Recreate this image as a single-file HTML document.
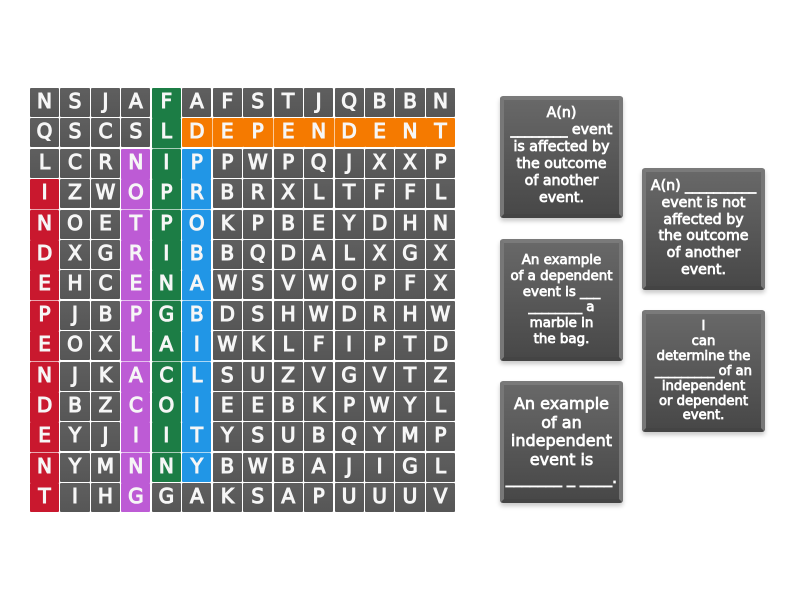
<!DOCTYPE html>
<html><head><meta charset="utf-8">
<style>
html,body{margin:0;padding:0;background:#fff;width:800px;height:600px;overflow:hidden}
#g{position:absolute;left:30px;top:88px;display:grid;grid-template-columns:repeat(14,29.07px);grid-auto-rows:29px;gap:1.4px;font:normal 20px "DejaVu Sans",sans-serif;-webkit-text-stroke:1.1px #f6f6f6;color:#f6f6f6}
#g div{background:linear-gradient(#5f5f5f,#565656);text-align:center;line-height:27px;border-radius:1px}
#g .r{background:#c9182e;box-shadow:0 1.4px 0 #c9182e}
#g .g{background:#1c7d45;box-shadow:0 1.4px 0 #1c7d45}
#g .b{background:#2196e6;box-shadow:0 1.4px 0 #2196e6}
#g .p{background:#bd5bd5;box-shadow:0 1.4px 0 #bd5bd5}
#g .o{background:#f57a00;box-shadow:1.4px 0 0 #f57a00}
#g .e{box-shadow:none}
.c{position:absolute;width:123px;height:122px;box-sizing:border-box;border:4px solid #777;border-radius:3px;background:linear-gradient(#686868,#484848);box-shadow:0 3px 5px rgba(0,0,0,.22);color:#fff;text-align:center;font-family:"DejaVu Sans",sans-serif;font-weight:normal;white-space:nowrap;-webkit-text-stroke:.75px #fff;border-top-color:#7a7a7a;border-bottom-color:#444}
.c span{position:absolute;left:-4px;right:-4px;display:block}
</style></head><body>
<div id="g">
<div>N</div><div>S</div><div>J</div><div>A</div><div class="g">F</div><div>A</div><div>F</div><div>S</div><div>T</div><div>J</div><div>Q</div><div>B</div><div>B</div><div>N</div>
<div>Q</div><div>S</div><div>C</div><div>S</div><div class="g">L</div><div class="o">D</div><div class="o">E</div><div class="o">P</div><div class="o">E</div><div class="o">N</div><div class="o">D</div><div class="o">E</div><div class="o">N</div><div class="o e">T</div>
<div>L</div><div>C</div><div>R</div><div class="p">N</div><div class="g">I</div><div class="b">P</div><div>P</div><div>W</div><div>P</div><div>Q</div><div>J</div><div>X</div><div>X</div><div>P</div>
<div class="r">I</div><div>Z</div><div>W</div><div class="p">O</div><div class="g">P</div><div class="b">R</div><div>B</div><div>R</div><div>X</div><div>L</div><div>T</div><div>F</div><div>F</div><div>L</div>
<div class="r">N</div><div>O</div><div>E</div><div class="p">T</div><div class="g">P</div><div class="b">O</div><div>K</div><div>P</div><div>B</div><div>E</div><div>Y</div><div>D</div><div>H</div><div>N</div>
<div class="r">D</div><div>X</div><div>G</div><div class="p">R</div><div class="g">I</div><div class="b">B</div><div>B</div><div>Q</div><div>D</div><div>A</div><div>L</div><div>X</div><div>G</div><div>X</div>
<div class="r">E</div><div>H</div><div>C</div><div class="p">E</div><div class="g">N</div><div class="b">A</div><div>W</div><div>S</div><div>V</div><div>W</div><div>O</div><div>P</div><div>F</div><div>X</div>
<div class="r">P</div><div>J</div><div>B</div><div class="p">P</div><div class="g">G</div><div class="b">B</div><div>D</div><div>S</div><div>H</div><div>W</div><div>D</div><div>R</div><div>H</div><div>W</div>
<div class="r">E</div><div>O</div><div>X</div><div class="p">L</div><div class="g">A</div><div class="b">I</div><div>W</div><div>K</div><div>L</div><div>F</div><div>I</div><div>P</div><div>T</div><div>D</div>
<div class="r">N</div><div>J</div><div>K</div><div class="p">A</div><div class="g">C</div><div class="b">L</div><div>S</div><div>U</div><div>Z</div><div>V</div><div>G</div><div>V</div><div>T</div><div>Z</div>
<div class="r">D</div><div>B</div><div>Z</div><div class="p">C</div><div class="g">O</div><div class="b">I</div><div>E</div><div>E</div><div>B</div><div>K</div><div>P</div><div>W</div><div>Y</div><div>L</div>
<div class="r">E</div><div>Y</div><div>J</div><div class="p">I</div><div class="g">I</div><div class="b">T</div><div>Y</div><div>S</div><div>U</div><div>B</div><div>Q</div><div>Y</div><div>M</div><div>P</div>
<div class="r">N</div><div>Y</div><div>M</div><div class="p">N</div><div class="g e">N</div><div class="b e">Y</div><div>B</div><div>W</div><div>B</div><div>A</div><div>J</div><div>I</div><div>G</div><div>L</div>
<div class="r e">T</div><div>I</div><div>H</div><div class="p e">G</div><div>G</div><div>A</div><div>K</div><div>S</div><div>A</div><div>P</div><div>U</div><div>U</div><div>U</div><div>V</div>
</div>

<div class="c" style="left:500px;top:96px;font-size:14.2px;line-height:17px"><span style="top:5px">A(n)<br>________ event<br>is affected by<br>the outcome<br>of another<br>event.</span></div>
<div class="c" style="left:642px;top:168px;font-size:14.2px;line-height:16.8px"><span style="top:6px">A(n) __________<br>event is not<br>affected by<br>the outcome<br>of another<br>event.</span></div>
<div class="c" style="left:500px;top:239px;font-size:13.4px;line-height:15.8px"><span style="top:10px">An example<br>of a dependent<br>event is ___<br>________ a<br>marble in<br>the bag.</span></div>
<div class="c" style="left:642px;top:310px;font-size:13.2px;line-height:14.9px"><span style="top:6px">I<br>can<br>determine the<br>_________ of an<br>independent<br>or dependent<br>event.</span></div>
<div class="c" style="left:500px;top:381px;font-size:16px;line-height:18.5px"><span style="top:10px">An example<br>of an<br>independent<br>event is<br>_______ _ ____.</span></div>
</body></html>
